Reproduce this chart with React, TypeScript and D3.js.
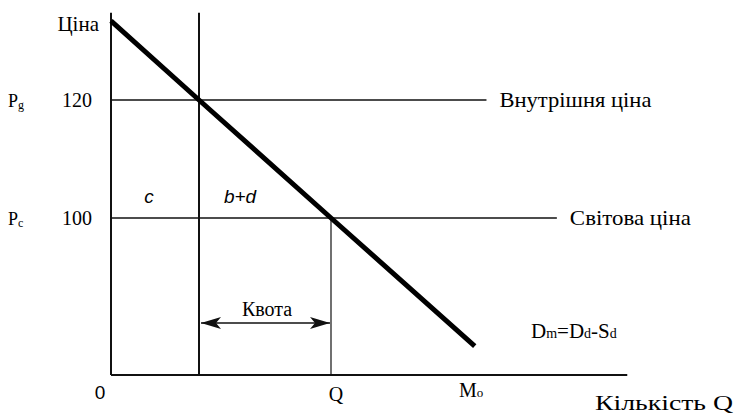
// @ts-nocheck
import React, { useEffect, useRef } from 'react'
import * as d3 from 'd3'

// quantity / price values
const quotaStart = 30
const importQ = 75
const demandPoints = [[0, 133.4], [30, 120], [75, 100], [124, 78.3]]
const domesticPrice = 120
const worldPrice = 100
const priceLabels = ['120', '100']
const priceNames = ['P', 'P']
const priceSubs = ['g', 'c']
const lineNames = ['Внутрішня ціна', 'Світова ціна']
const lineEnds = [128, 152]

export const App: React.FC = (): React.ReactElement => {
    const ref = useRef(null)

    const buildChart = () => {
        const width = 739, height = 414

        // x: quantity, y: price (axis origin is not price 0)
        const x = d3.scaleLinear([0, 30], [111, 199])
        const y = d3.scaleLinear([100, 120], [218, 100])
        const qMax = 176, pMin = 73.4, pMax = 134.8

        const chart = d3.select(ref.current)
            .attr('width', width)
            .attr('height', height)
        chart.selectAll('*').remove()

        const serif = '"Liberation Serif", serif'
        const sans = '"Liberation Sans", "DejaVu Sans", sans-serif'

        // arrow marker
        const defs = chart.append('defs')
        defs.append('marker')
            .attr('id', 'arr')
            .attr('viewBox', '0 0 20 12')
            .attr('refX', 20).attr('refY', 6)
            .attr('markerWidth', 20).attr('markerHeight', 12)
            .attr('markerUnits', 'userSpaceOnUse')
            .attr('orient', 'auto-start-reverse')
            .append('path')
            .attr('d', 'M0,0 L20,6 L0,12 L5,6 Z')
            .attr('fill', '#111')

        // axes
        chart.append('line')
            .attr('x1', x(0)).attr('x2', x(0))
            .attr('y1', y(pMax)).attr('y2', y(pMin))
            .attr('stroke', '#111').attr('stroke-width', 2)
        chart.append('line')
            .attr('x1', x(0)).attr('x2', x(qMax))
            .attr('y1', y(pMin)).attr('y2', y(pMin))
            .attr('stroke', '#111').attr('stroke-width', 2)

        // price lines
        const prices = [domesticPrice, worldPrice]
        prices.forEach((p, i) => {
            chart.append('line')
                .attr('x1', x(0)).attr('x2', x(lineEnds[i]))
                .attr('y1', y(p)).attr('y2', y(p))
                .attr('stroke', '#111').attr('stroke-width', 1.3)
            chart.append('text')
                .attr('x', x(lineEnds[i]) + 13).attr('y', y(p) + 7)
                .attr('font-family', serif).attr('font-size', 21)
                .attr('textLength', i === 0 ? 152 : 121)
                .attr('lengthAdjust', 'spacingAndGlyphs')
                .text(lineNames[i])
            chart.append('text')
                .attr('x', 92).attr('y', y(p) + 7)
                .attr('text-anchor', 'end')
                .attr('font-family', serif).attr('font-size', 20)
                .text(priceLabels[i])
            const t = chart.append('text')
                .attr('x', 8).attr('y', y(p) + 7)
                .attr('font-family', serif).attr('font-size', 18)
            t.append('tspan').text(priceNames[i])
            t.append('tspan').attr('font-size', 12).attr('dy', 2).text(priceSubs[i])
        })

        // quota vertical line (full height)
        chart.append('line')
            .attr('x1', x(quotaStart)).attr('x2', x(quotaStart))
            .attr('y1', y(pMax)).attr('y2', y(pMin))
            .attr('stroke', '#111').attr('stroke-width', 2)

        // Q vertical
        chart.append('line')
            .attr('x1', x(importQ)).attr('x2', x(importQ))
            .attr('y1', y(worldPrice)).attr('y2', y(pMin))
            .attr('stroke', '#111').attr('stroke-width', 1.2)

        // demand line
        const linePath = d3.line()
            .x(d => x(d[0]))
            .y(d => y(d[1]))
        chart.append('path')
            .attr('fill', 'none')
            .attr('stroke', '#000')
            .attr('stroke-width', 5)
            .attr('d', linePath(demandPoints))

        // quota arrow
        const ay = 323
        chart.append('line')
            .attr('x1', x(quotaStart) + 2).attr('x2', x(importQ) - 1)
            .attr('y1', ay).attr('y2', ay)
            .attr('stroke', '#111').attr('stroke-width', 1.5)
            .attr('marker-start', 'url(#arr)')
            .attr('marker-end', 'url(#arr)')
        chart.append('text')
            .attr('x', (x(quotaStart) + x(importQ)) / 2 + 2).attr('y', 316)
            .attr('text-anchor', 'middle')
            .attr('font-family', serif).attr('font-size', 20)
            .text('Квота')

        // area labels
        chart.append('text')
            .attr('x', 149).attr('y', 203)
            .attr('text-anchor', 'middle')
            .attr('font-family', sans).attr('font-style', 'italic').attr('font-size', 19)
            .text('c')
        chart.append('text')
            .attr('x', 240).attr('y', 203)
            .attr('text-anchor', 'middle')
            .attr('font-family', sans).attr('font-style', 'italic').attr('font-size', 19)
            .text('b+d')

        // axis titles
        chart.append('text')
            .attr('x', 99).attr('y', 31)
            .attr('text-anchor', 'end')
            .attr('font-family', serif).attr('font-size', 21)
            .text('Ціна')
        chart.append('text')
            .attr('x', 100).attr('y', 399)
            .attr('text-anchor', 'middle')
            .attr('font-family', sans).attr('font-size', 19)
            .text('0')
        chart.append('text')
            .attr('x', x(importQ) + 5).attr('y', 401)
            .attr('text-anchor', 'middle')
            .attr('font-family', serif).attr('font-size', 20)
            .text('Q')
        const mo = chart.append('text')
            .attr('x', 459).attr('y', 397)
            .attr('font-family', serif).attr('font-size', 20)
        mo.append('tspan').text('M')
        mo.append('tspan').attr('font-size', 13).text('o')
        chart.append('text')
            .attr('x', 595).attr('y', 410)
            .attr('font-family', serif).attr('font-size', 20)
            .attr('textLength', 138)
            .attr('lengthAdjust', 'spacingAndGlyphs')
            .text('Кількість Q')

        // Dm = Dd - Sd
        const dm = chart.append('text')
            .attr('x', 531).attr('y', 338)
            .attr('font-family', serif).attr('font-size', 21)
        dm.append('tspan').text('D')
        dm.append('tspan').attr('font-size', 14).text('m')
        dm.append('tspan').text('=D')
        dm.append('tspan').attr('font-size', 14).text('d')
        dm.append('tspan').text('-S')
        dm.append('tspan').attr('font-size', 14).text('d')
    }

    useEffect(() => {
        buildChart()
    }, [])

    return <svg ref={ref} width='739' height='414'
        style={{ position: 'absolute', left: 0, top: 0, background: '#fff' }}></svg>
}

export default App
